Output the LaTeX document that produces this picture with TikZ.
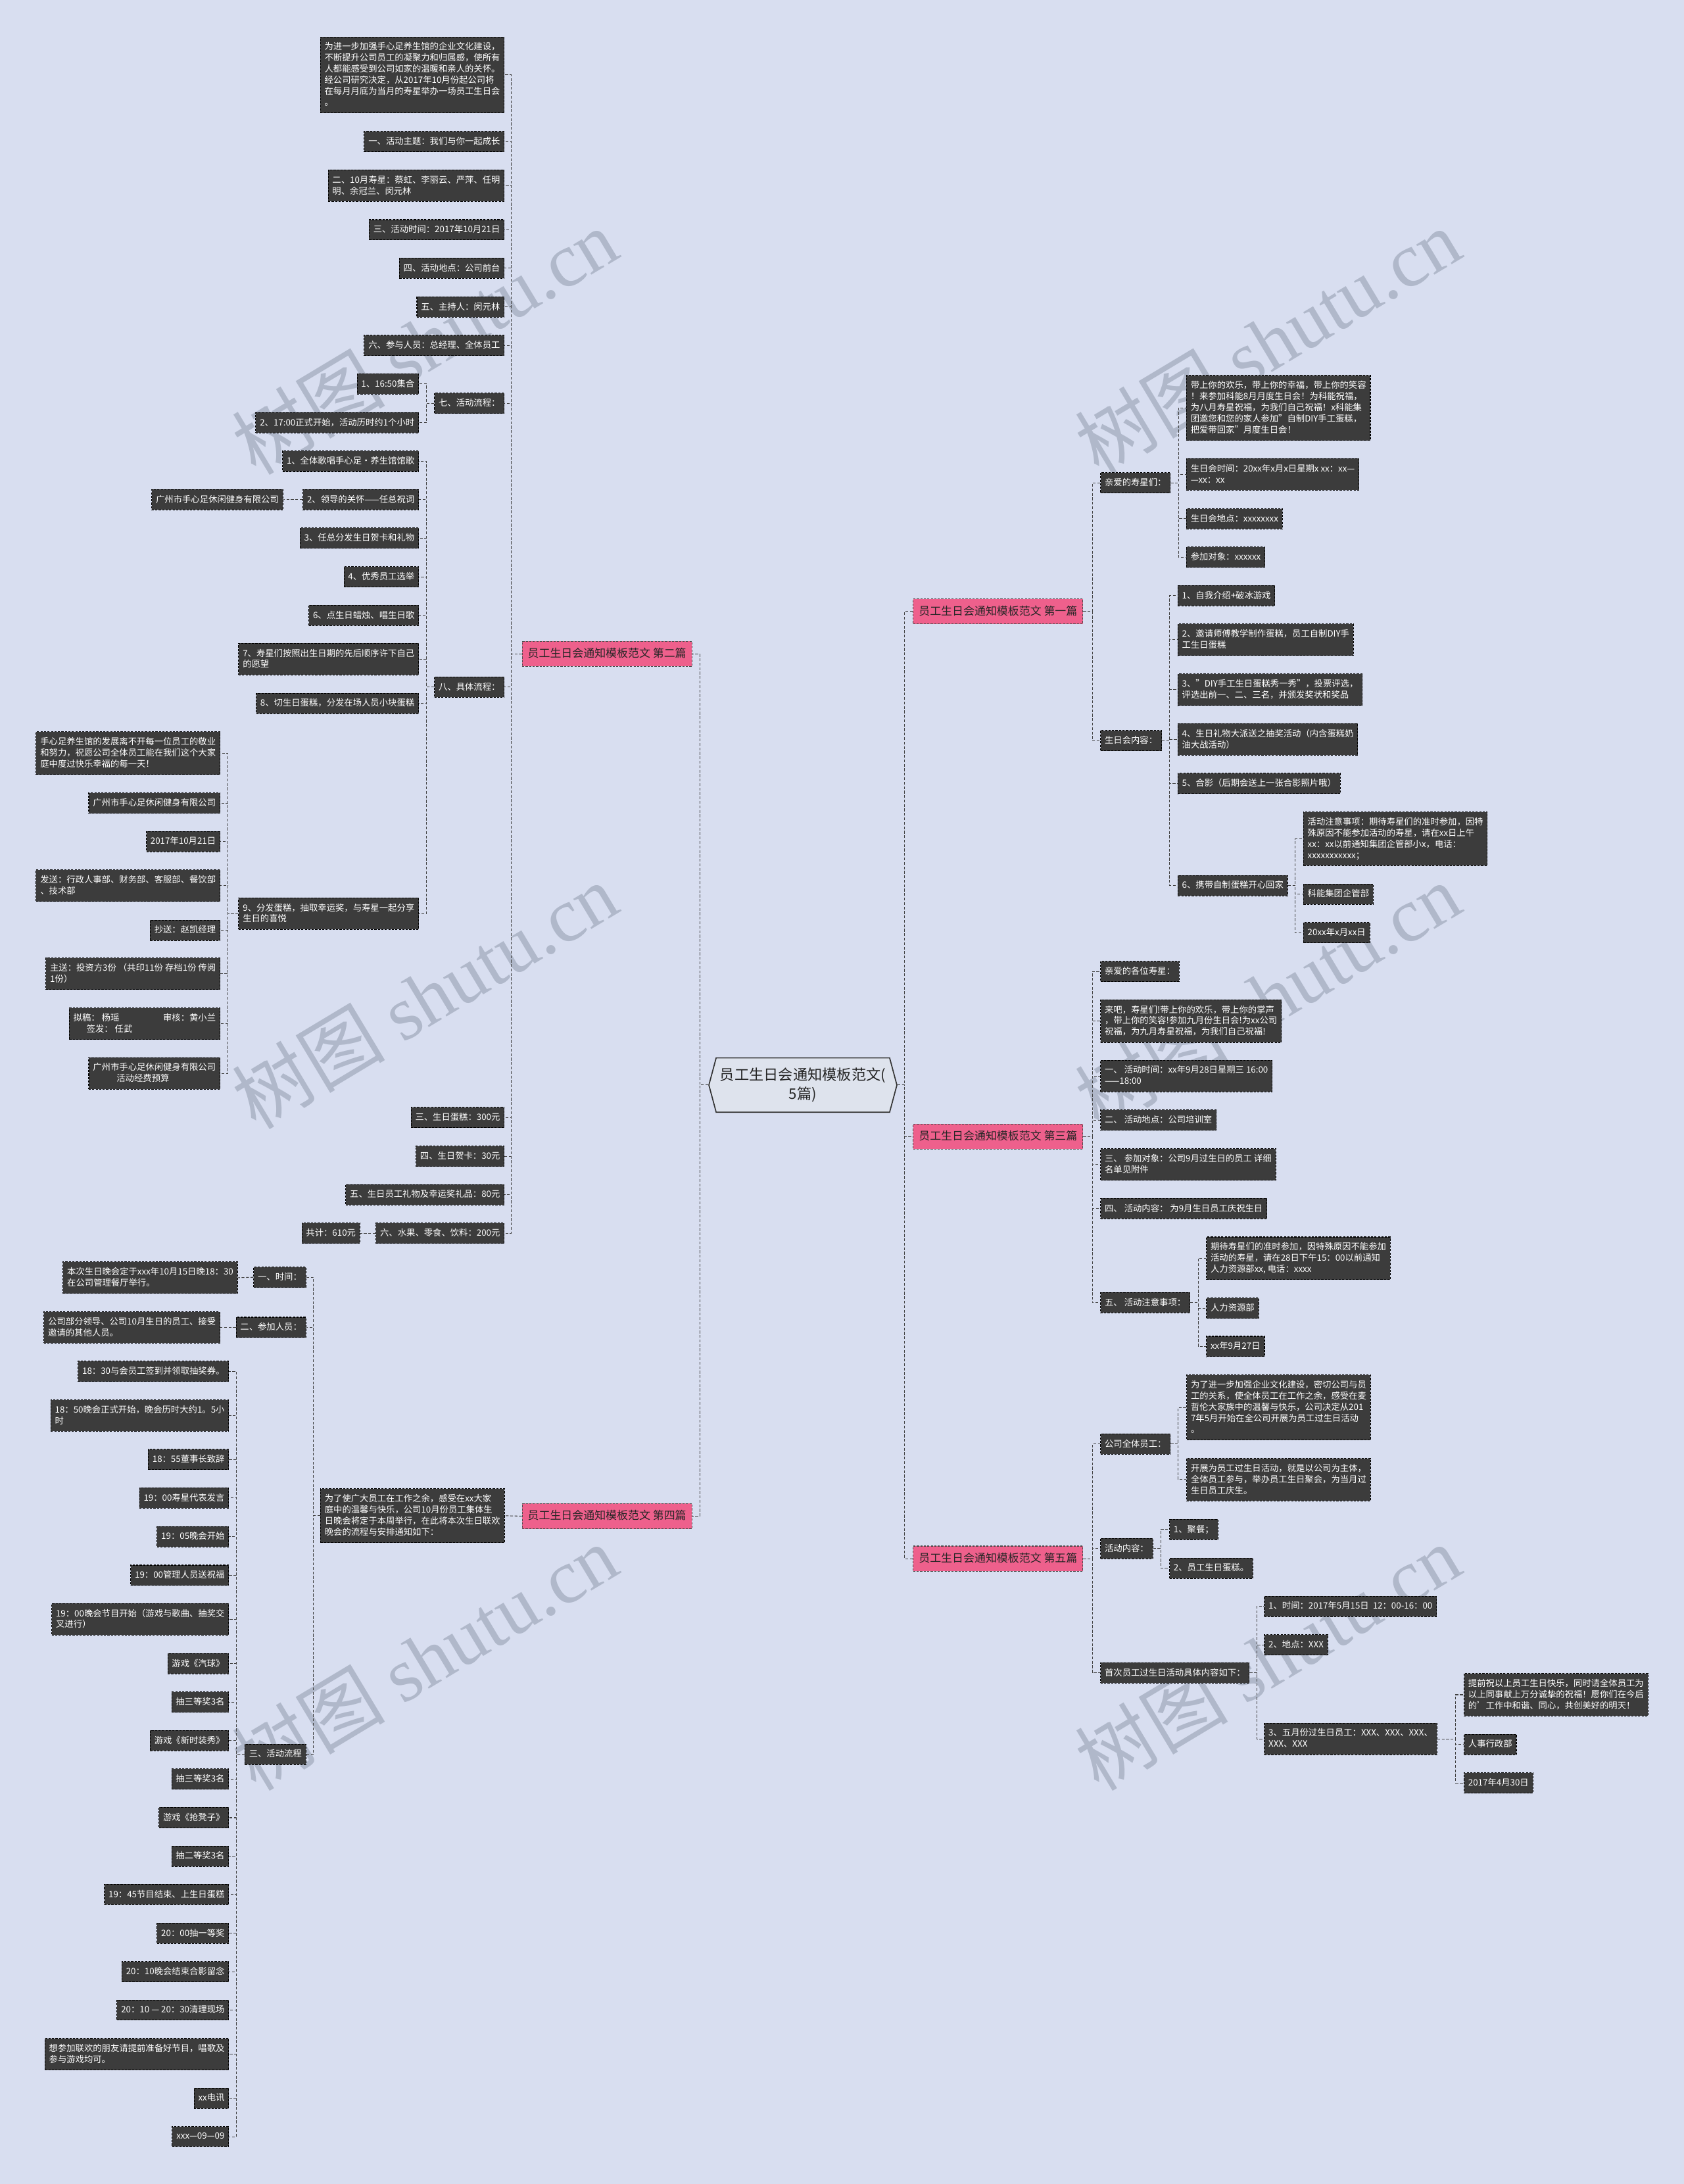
\documentclass[tikz,border=0pt]{standalone}
\usepackage{fontspec}
\setmainfont{Noto Sans CJK SC}
\newfontfamily\wmfont{Liberation Serif}
\usetikzlibrary{shapes.symbols}

\definecolor{bgc}{RGB}{216,222,240}
\definecolor{boxc}{RGB}{60,60,60}
\definecolor{pinkc}{RGB}{238,96,140}
\definecolor{rootc}{RGB}{222,227,237}
\definecolor{wmc}{RGB}{176,184,202}
\newcommand{\nodestrut}{\rule[-1.3pt]{0pt}{6.3pt}}

\begin{document}
\begin{tikzpicture}[x=1pt, y=-1pt,
  box/.style={draw=black, dash pattern=on 1.5pt off 1pt, line width=0.5pt, fill=boxc,
    text=white, font=\fontsize{6.3}{8}\selectfont, inner xsep=3pt, inner ysep=4pt,
    align=left, execute at begin node=\nodestrut, execute at end node=\nodestrut},
  lbox/.style={box, anchor=east},
  rbox/.style={box, anchor=west},
  topic/.style={draw=black!70, dash pattern=on 1.5pt off 1pt, line width=0.5pt, fill=pinkc,
    text=black!85, font=\fontsize{8}{10}\selectfont, inner xsep=4pt, inner ysep=5pt,
    text height=6.5pt, text depth=1.5pt},
  link/.style={draw=black!75, dash pattern=on 2pt off 1.2pt, line width=0.5pt},
  wm/.style={text=wmc, rotate=31, font=\fontsize{55}{55}\selectfont}]

\useasboundingbox (0,0) rectangle (1209,1568);
\fill[bgc] (0,0) rectangle (1209,1568);

% watermarks
\node[wm] (wm1) at (305,245) {树图 {\wmfont shutu.cn}};
\node[wm] (wm2) at (305,715) {树图 {\wmfont shutu.cn}};
\node[wm] (wm3) at (305,1190) {树图 {\wmfont shutu.cn}};
\node[wm] (wm4) at (910,245) {树图 {\wmfont shutu.cn}};
\node[wm] (wm5) at (910,715) {树图 {\wmfont shutu.cn}};
\node[wm] (wm6) at (910,1190) {树图 {\wmfont shutu.cn}};

% root
\node[signal, signal to=west and east, signal pointer angle=150, draw=black!80, line width=0.8pt,
  fill=rootc, text=black!85, font=\fontsize{10.5}{14}\selectfont, align=center,
  minimum width=135pt, minimum height=39pt, inner sep=2pt] (root) at (576.5,779)
  {员工生日会通知模板范文(\\5篇)};

% topics
\node[topic, anchor=west] (p1) at (655.5,439) {员工生日会通知模板范文 第一篇};
\node[topic, anchor=east] (p2) at (497,469.5) {员工生日会通知模板范文 第二篇};
\node[topic, anchor=west] (p3) at (655.5,816) {员工生日会通知模板范文 第三篇};
\node[topic, anchor=east] (p4) at (497,1088.5) {员工生日会通知模板范文 第四篇};
\node[topic, anchor=west] (p5) at (655.5,1119) {员工生日会通知模板范文 第五篇};

% bus positions
\coordinate (xL) at (502.5,0);
\coordinate (xR) at (649.5,0);
\coordinate (xB) at (367,0);
\coordinate (xB8) at (306.3,0);
\coordinate (xBh) at (163.7,0);
\coordinate (xD1) at (225.1,0);
\coordinate (xDc) at (169.7,0);
\coordinate (xA) at (784.3,0);
\coordinate (xA1) at (846.1,0);
\coordinate (xA2) at (839.9,0);
\coordinate (xA2f) at (930.1,0);
\coordinate (xC5) at (860.3,0);
\coordinate (xE1) at (846,0);
\coordinate (xE2) at (833.5,0);
\coordinate (xE3) at (902.4,0);
\coordinate (xE3c) at (1045.2,0);

% second
\node[lbox] (b1) at (362.3,53.8) {为进一步加强手心足养生馆的企业文化建设，\\不断提升公司员工的凝聚力和归属感，使所有\\人都能感受到公司如家的温暖和亲人的关怀。\\经公司研究决定，从2017年10月份起公司将\\在每月月底为当月的寿星举办一场员工生日会\\。};
\node[lbox] (b2) at (362.3,101.6) {一、活动主题：我们与你一起成长};
\node[lbox] (b3) at (362.3,133.3) {二、10月寿星：蔡虹、李丽云、严萍、任明\\明、余冠兰、闵元林};
\node[lbox] (b4) at (362.3,165) {三、活动时间：2017年10月21日};
\node[lbox] (b5) at (362.3,192.6) {四、活动地点：公司前台};
\node[lbox] (b6) at (362.3,220.4) {五、主持人：闵元林};
\node[lbox] (b7) at (362.3,248) {六、参与人员：总经理、全体员工};
\node[lbox] (b8) at (362.3,289.5) {七、活动流程：};
\node[lbox] (b8a) at (300.8,275.7) {1、16:50集合};
\node[lbox] (b8b) at (300.8,303.5) {2、17:00正式开始，活动历时约1个小时};
\node[lbox] (b9) at (362.3,493.3) {八、具体流程：};
\node[lbox] (b9a) at (300.8,331.2) {1、全体歌唱手心足·养生馆馆歌};
\node[lbox] (b9b) at (300.8,358.8) {2、领导的关怀——任总祝词};
\node[lbox] (b9bx) at (203.4,358.8) {广州市手心足休闲健身有限公司};
\node[lbox] (b9c) at (300.8,386.3) {3、任总分发生日贺卡和礼物};
\node[lbox] (b9d) at (300.8,414.2) {4、优秀员工选举};
\node[lbox] (b9e) at (300.8,441.9) {6、点生日蜡烛、唱生日歌};
\node[lbox] (b9f) at (300.8,473.2) {7、寿星们按照出生日期的先后顺序许下自己\\的愿望};
\node[lbox] (b9g) at (300.8,505) {8、切生日蛋糕，分发在场人员小块蛋糕};
\node[lbox] (b9h) at (300.8,655.9) {9、分发蛋糕，抽取幸运奖，与寿星一起分享\\生日的喜悦};
\node[lbox] (h1) at (158.2,540.8) {手心足养生馆的发展离不开每一位员工的敬业\\和努力，祝愿公司全体员工能在我们这个大家\\庭中度过快乐幸福的每一天！};
\node[lbox] (h2) at (158.2,576.5) {广州市手心足休闲健身有限公司};
\node[lbox] (h3) at (158.2,604.2) {2017年10月21日};
\node[lbox] (h4) at (158.2,635.8) {发送：行政人事部、财务部、客服部、餐饮部\\、技术部};
\node[lbox] (h5) at (158.2,667.9) {抄送：赵凯经理};
\node[lbox] (h6) at (158.2,699.2) {主送：投资方3份 （共印11份 存档1份 传阅\\1份）};
\node[lbox] (h7) at (158.2,735) {拟稿： 杨瑶\hspace{5em}审核：黄小兰\hspace{1.6em}\\\hspace{1.5em}签发： 任武};
\node[lbox] (h8) at (158.2,770.6) {广州市手心足休闲健身有限公司\hspace{2.6em}\\\hspace{2.7em}活动经费预算};
\node[lbox] (b10) at (362.3,802.3) {三、生日蛋糕：300元};
\node[lbox] (b11) at (362.3,830.1) {四、生日贺卡：30元};
\node[lbox] (b12) at (362.3,857.7) {五、生日员工礼物及幸运奖礼品：80元};
\node[lbox] (b13) at (362.3,885.3) {六、水果、零食、饮料：200元};
\node[lbox] (b13x) at (258.7,885.3) {共计：610元};

% fourth
\node[lbox] (d1) at (362.4,1088.2) {为了使广大员工在工作之余，感受在xx大家\\庭中的温馨与快乐，公司10月份员工集体生\\日晚会将定于本周举行，在此将本次生日联欢\\晚会的流程与安排通知如下：};
\node[lbox] (d1a) at (219.9,917) {一、时间：};
\node[lbox] (d1ax) at (170.8,917.3) {本次生日晚会定于xxx年10月15日晚18：30\\在公司管理餐厅举行。};
\node[lbox] (d1b) at (219.9,953) {二、参加人员：};
\node[lbox] (d1bx) at (158.2,953) {公司部分领导、公司10月生日的员工、接受\\邀请的其他人员。};
\node[lbox] (d1c) at (219.9,1259.5) {三、活动流程};
\node[lbox] (c1) at (164.5,984.6) {18：30与会员工签到并领取抽奖券。};
\node[lbox] (c2) at (164.5,1016.3) {18：50晚会正式开始，晚会历时大约1。5小\\时};
\node[lbox] (c3) at (164.5,1047.8) {18：55董事长致辞};
\node[lbox] (c4) at (164.5,1075.5) {19：00寿星代表发言};
\node[lbox] (c5) at (164.5,1103.2) {19：05晚会开始};
\node[lbox] (c6) at (164.5,1131) {19：00管理人员送祝福};
\node[lbox] (c7) at (164.5,1162.5) {19：00晚会节目开始（游戏与歌曲、抽奖交\\叉进行）};
\node[lbox] (c8) at (164.5,1194.4) {游戏《汽球》};
\node[lbox] (c9) at (164.5,1222) {抽三等奖3名};
\node[lbox] (c10) at (164.5,1249.7) {游戏《新时装秀》};
\node[lbox] (c11) at (164.5,1277.2) {抽三等奖3名};
\node[lbox] (c12) at (164.5,1305) {游戏《抢凳子》};
\node[lbox] (c13) at (164.5,1332.7) {抽二等奖3名};
\node[lbox] (c14) at (164.5,1360.2) {19：45节目结束、上生日蛋糕};
\node[lbox] (c15) at (164.5,1388) {20：00抽一等奖};
\node[lbox] (c16) at (164.5,1415.6) {20：10晚会结束合影留念};
\node[lbox] (c17) at (164.5,1443.1) {20：10 — 20：30清理现场};
\node[lbox] (c18) at (164.5,1474.9) {想参加联欢的朋友请提前准备好节目，唱歌及\\参与游戏均可。};
\node[lbox] (c19) at (164.5,1506.5) {xx电讯};
\node[lbox] (c20) at (164.5,1534) {xxx—09—09};

% first
\node[rbox] (a1) at (790,346.6) {亲爱的寿星们：};
\node[rbox] (a1a) at (851.7,292.8) {带上你的欢乐，带上你的幸福，带上你的笑容\\！来参加科能8月月度生日会！为科能祝福，\\为八月寿星祝福，为我们自己祝福！x科能集\\团邀您和您的家人参加"自制DIY手工蛋糕，\\把爱带回家"月度生日会！};
\node[rbox] (a1b) at (851.7,340.6) {生日会时间：20xx年x月x日星期x xx：xx—\\—xx：xx};
\node[rbox] (a1c) at (851.7,372.5) {生日会地点：xxxxxxxx};
\node[rbox] (a1d) at (851.7,400.1) {参加对象：xxxxxx};
\node[rbox] (a2) at (790,531.8) {生日会内容：};
\node[rbox] (a2a) at (845.5,427.7) {1、自我介绍+破冰游戏};
\node[rbox] (a2b) at (845.5,459.3) {2、邀请师傅教学制作蛋糕，员工自制DIY手\\工生日蛋糕};
\node[rbox] (a2c) at (845.5,495.2) {3、"DIY手工生日蛋糕秀一秀"，投票评选，\\评选出前一、二、三名，并颁发奖状和奖品};
\node[rbox] (a2d) at (845.5,530.9) {4、生日礼物大派送之抽奖活动（内含蛋糕奶\\油大战活动）};
\node[rbox] (a2e) at (845.5,562.5) {5、合影（后期会送上一张合影照片哦）};
\node[rbox] (a2f) at (845.5,635.8) {6、携带自制蛋糕开心回家};
\node[rbox] (f1) at (935.7,602.2) {活动注意事项：期待寿星们的准时参加，因特\\殊原因不能参加活动的寿星，请在xx日上午\\xx：xx以前通知集团企管部小x，电话：\\xxxxxxxxxxx；};
\node[rbox] (f2) at (935.7,641.9) {科能集团企管部};
\node[rbox] (f3) at (935.7,669.7) {20xx年x月xx日};

% third
\node[rbox] (g1) at (790,697.4) {亲爱的各位寿星：};
\node[rbox] (g2) at (790,733.1) {来吧，寿星们!带上你的欢乐，带上你的掌声\\，带上你的笑容!参加九月份生日会!为xx公司\\祝福，为九月寿星祝福，为我们自己祝福!};
\node[rbox] (g3) at (790,772.5) {一、 活动时间：xx年9月28日星期三 16:00\\——18:00};
\node[rbox] (g4) at (790,804.2) {二、 活动地点：公司培训室};
\node[rbox] (g5) at (790,836) {三、 参加对象：公司9月过生日的员工 详细\\名单见附件};
\node[rbox] (g6) at (790,867.7) {四、 活动内容： 为9月生日员工庆祝生日};
\node[rbox] (g7) at (790,935.2) {五、 活动注意事项：};
\node[rbox] (g7a) at (866,903.4) {期待寿星们的准时参加，因特殊原因不能参加\\活动的寿星，请在28日下午15：00以前通知\\人力资源部xx, 电话：xxxx};
\node[rbox] (g7b) at (866,939.2) {人力资源部};
\node[rbox] (g7c) at (866,966.7) {xx年9月27日};

% fifth
\node[rbox] (e1) at (790,1036.7) {公司全体员工：};
\node[rbox] (e1a) at (851.8,1010.5) {为了进一步加强企业文化建设，密切公司与员\\工的关系，使全体员工在工作之余，感受在麦\\哲伦大家族中的温馨与快乐，公司决定从201\\7年5月开始在全公司开展为员工过生日活动\\。};
\node[rbox] (e1b) at (851.8,1062.3) {开展为员工过生日活动，就是以公司为主体，\\全体员工参与，举办员工生日聚会，为当月过\\生日员工庆生。};
\node[rbox] (e2) at (790,1111.8) {活动内容：};
\node[rbox] (e2a) at (839.5,1098.1) {1、聚餐；};
\node[rbox] (e2b) at (839.5,1125.9) {2、员工生日蛋糕。};
\node[rbox] (e3) at (790,1201) {首次员工过生日活动具体内容如下：};
\node[rbox] (e3a) at (907.6,1153.3) {1、时间：2017年5月15日\ \ 12：00-16：00};
\node[rbox] (e3b) at (907.6,1181) {2、地点：XXX};
\node[rbox] (e3c) at (907.6,1248.4) {3、五月份过生日员工：XXX、XXX、XXX、\\XXX、XXX};
\node[rbox] (k1) at (1051,1216.7) {提前祝以上员工生日快乐，同时请全体员工为\\以上同事献上万分诚挚的祝福！愿你们在今后\\的'工作中和谐、同心，共创美好的明天！};
\node[rbox] (k2) at (1051,1252.4) {人事行政部};
\node[rbox] (k3) at (1051,1280) {2017年4月30日};

% connectors, left side
\foreach \n in {p2,p4}
  \draw[link] (root.west) -- (root.west -| xL) |- (\n.east);
\foreach \n in {b1,b2,b3,b4,b5,b6,b7,b8,b9,b10,b11,b12,b13}
  \draw[link] (p2.west) -- (p2.west -| xB) |- (\n.east);
\foreach \n in {b8a,b8b}
  \draw[link] (b8.west) -- (b8.west -| xB8) |- (\n.east);
\foreach \n in {b9a,b9b,b9c,b9d,b9e,b9f,b9g,b9h}
  \draw[link] (b9.west) -- (b9.west -| xB8) |- (\n.east);
\draw[link] (b9b.west) -- (b9bx.east);
\foreach \n in {h1,h2,h3,h4,h5,h6,h7,h8}
  \draw[link] (b9h.west) -- (b9h.west -| xBh) |- (\n.east);
\draw[link] (b13.west) -- (b13x.east);
\draw[link] (p4.west) -- (d1.east);
\foreach \n in {d1a,d1b,d1c}
  \draw[link] (d1.west) -- (d1.west -| xD1) |- (\n.east);
\draw[link] (d1a.west) -- (d1ax.east);
\draw[link] (d1b.west) -- (d1bx.east);
\foreach \n in {c1,c2,c3,c4,c5,c6,c7,c8,c9,c10,c11,c12,c13,c14,c15,c16,c17,c18,c19,c20}
  \draw[link] (d1c.west) -- (d1c.west -| xDc) |- (\n.east);

% connectors, right side
\foreach \n in {p1,p3,p5}
  \draw[link] (root.east) -- (root.east -| xR) |- (\n.west);
\foreach \n in {a1,a2}
  \draw[link] (p1.east) -- (p1.east -| xA) |- (\n.west);
\foreach \n in {a1a,a1b,a1c,a1d}
  \draw[link] (a1.east) -- (a1.east -| xA1) |- (\n.west);
\foreach \n in {a2a,a2b,a2c,a2d,a2e,a2f}
  \draw[link] (a2.east) -- (a2.east -| xA2) |- (\n.west);
\foreach \n in {f1,f2,f3}
  \draw[link] (a2f.east) -- (a2f.east -| xA2f) |- (\n.west);
\foreach \n in {g1,g2,g3,g4,g5,g6,g7}
  \draw[link] (p3.east) -- (p3.east -| xA) |- (\n.west);
\foreach \n in {g7a,g7b,g7c}
  \draw[link] (g7.east) -- (g7.east -| xC5) |- (\n.west);
\foreach \n in {e1,e2,e3}
  \draw[link] (p5.east) -- (p5.east -| xA) |- (\n.west);
\foreach \n in {e1a,e1b}
  \draw[link] (e1.east) -- (e1.east -| xE1) |- (\n.west);
\foreach \n in {e2a,e2b}
  \draw[link] (e2.east) -- (e2.east -| xE2) |- (\n.west);
\foreach \n in {e3a,e3b,e3c}
  \draw[link] (e3.east) -- (e3.east -| xE3) |- (\n.west);
\foreach \n in {k1,k2,k3}
  \draw[link] (e3c.east) -- (e3c.east -| xE3c) |- (\n.west);

\end{tikzpicture}
\end{document}
